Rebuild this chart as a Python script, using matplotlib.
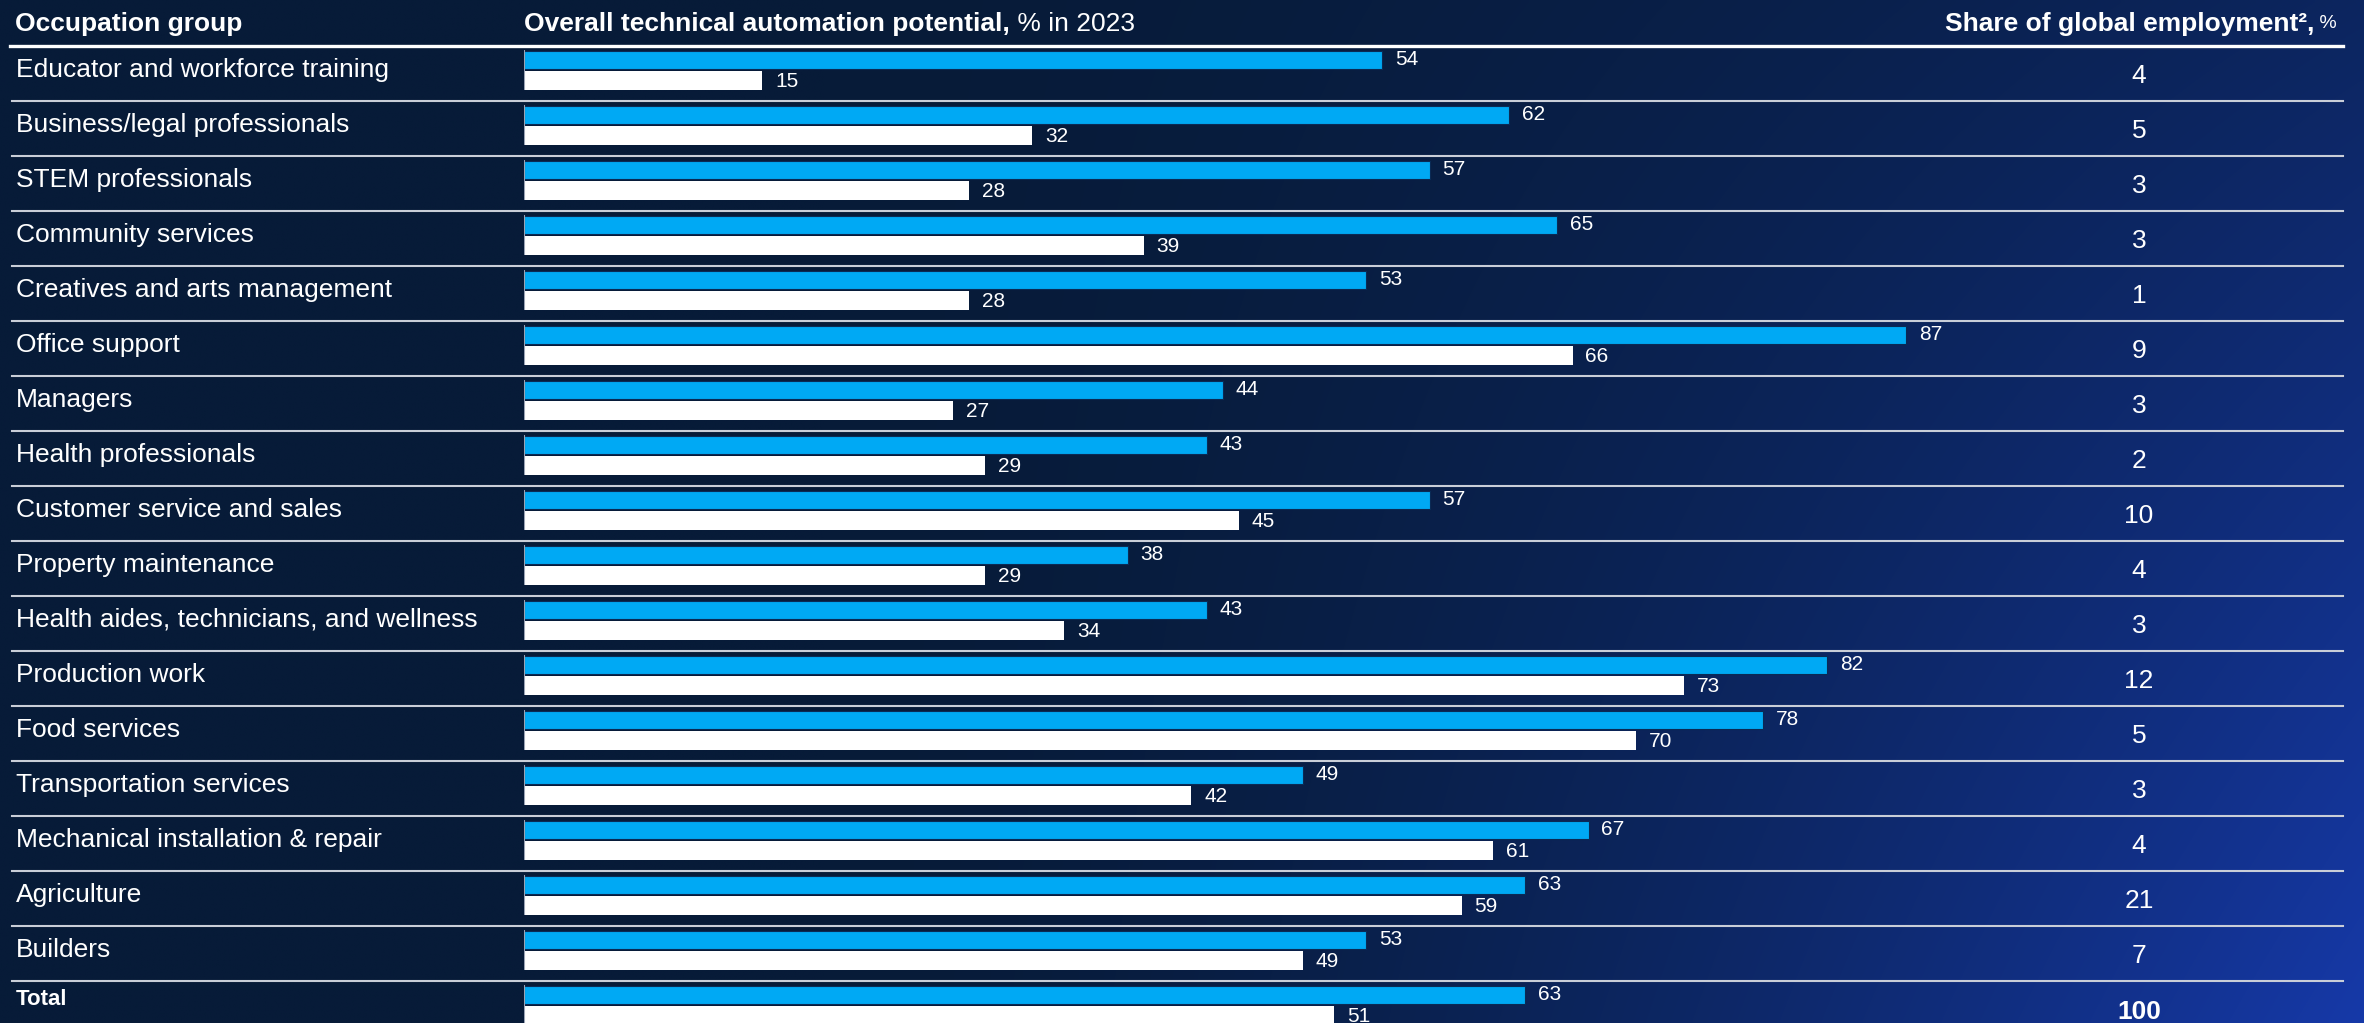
import numpy as np
import matplotlib.pyplot as plt
import matplotlib.transforms as mtransforms

plt.rcParams['font.family'] = ['Liberation Sans', 'DejaVu Sans']

# data
groups = ['Educator and workforce training', 'Business/legal professionals',
          'STEM professionals', 'Community services',
          'Creatives and arts management', 'Office support', 'Managers',
          'Health professionals', 'Customer service and sales',
          'Property maintenance', 'Health aides, technicians, and wellness',
          'Production work', 'Food services', 'Transportation services',
          'Mechanical installation & repair', 'Agriculture', 'Builders', 'Total']
potential_blue = [54, 62, 57, 65, 53, 87, 44, 43, 57, 38, 43, 82, 78, 49, 67, 63, 53, 63]
potential_white = [15, 32, 28, 39, 28, 66, 27, 29, 45, 29, 34, 73, 70, 42, 61, 59, 49, 51]
share_employment = [4, 5, 3, 3, 1, 9, 3, 2, 10, 4, 3, 12, 5, 3, 4, 21, 7, 100]

W, H = 2364, 1023
BLUE = '#00a9f4'

fig = plt.figure(figsize=(W / 100, H / 100), dpi=100)

# background gradient
bg = fig.add_axes([0, 0, 1, 1], zorder=-5)
gx, gy = np.meshgrid(np.linspace(0, 1, 400), np.linspace(0, 1, 200))
t = np.clip((gx - 0.35) / 0.65, 0, 1) ** 1.6 * (0.35 + 0.65 * gy)
c0 = np.array([7, 27, 56]) / 255
c1 = np.array([22, 57, 168]) / 255
img = c0[None, None, :] * (1 - t[..., None]) + c1[None, None, :] * t[..., None]
bg.imshow(img, aspect='auto', extent=[0, 1, 1, 0], interpolation='bilinear')
bg.set_xlim(0, 1)
bg.set_ylim(1, 0)
bg.axis('off')

# bar axes: x=0 at 524px, 15.89 px per unit; rows 55px tall starting at 46px
ax = fig.add_axes([524 / W, 1 - 1036 / H, 1589 / W, 990 / H])
ax.set_xlim(0, 100)
ax.set_ylim(17.5, -0.5)
ax.axis('off')
ax.patch.set_alpha(0)

y = np.arange(len(groups))
ax.barh(y - 0.245, potential_blue, height=0.335, color=BLUE, edgecolor='#0a2a55', linewidth=0.8, zorder=3)
ax.barh(y + 0.125, potential_white, height=0.35, color='white', edgecolor='none', zorder=3)
ax.vlines(np.zeros(len(y)), y - 0.42, y + 0.30, color='#9aa3b5', linewidth=1.5, zorder=4)

for i in range(len(groups)):
    ax.text(potential_blue[i] + 0.8, y[i] - 0.25, str(potential_blue[i]), color='white',
            fontsize=15, va='center', ha='left')
    ax.text(potential_white[i] + 0.8, y[i] + 0.15, str(potential_white[i]), color='white',
            fontsize=15, va='center', ha='left')

trans = mtransforms.blended_transform_factory(fig.transFigure, ax.transData)
for i, g in enumerate(groups):
    if g == 'Total':
        ax.text(16 / W, y[i] - 0.17, g, transform=trans, color='white', fontsize=16,
                fontweight='bold', va='center', ha='left')
        ax.text(2139 / W, y[i] + 0.07, str(share_employment[i]), transform=trans, color='white',
                fontsize=19, fontweight='bold', va='center', ha='center')
    else:
        ax.text(16 / W, y[i] - 0.07, g, transform=trans, color='white', fontsize=19,
                va='center', ha='left')
        ax.text(2139 / W, y[i] + 0.04, str(share_employment[i]), transform=trans, color='white',
                fontsize=19, va='center', ha='center')

# separator lines
ax.plot([10 / W, 2343 / W], [-0.5, -0.5], transform=trans, color='white', linewidth=2.4, clip_on=False)
for i in range(len(groups) - 1):
    ax.plot([12 / W, 2343 / W], [i + 0.5, i + 0.5], transform=trans, color='#c9ced8',
            linewidth=1.5, clip_on=False)

# headers
hy = 1 - 24 / H
fig.text(15 / W, hy, 'Occupation group', color='white', fontsize=19, fontweight='bold', va='center')
h1 = fig.text(524 / W, hy, 'Overall technical automation potential,', color='white', fontsize=19,
              fontweight='bold', va='center')
fig.canvas.draw()
ax.annotate(' % in 2023', xy=(1, 0.5), xycoords=h1, color='white', fontsize=19, va='center', ha='left')
h2 = fig.text(2337 / W, hy, ' %', color='white', fontsize=14, va='center', ha='right')
ax.annotate('Share of global employment\u00b2,', xy=(0, 0.5), xycoords=h2, color='white', fontsize=19,
            fontweight='bold', va='center', ha='right')

fig.savefig('out.png', dpi=100)
